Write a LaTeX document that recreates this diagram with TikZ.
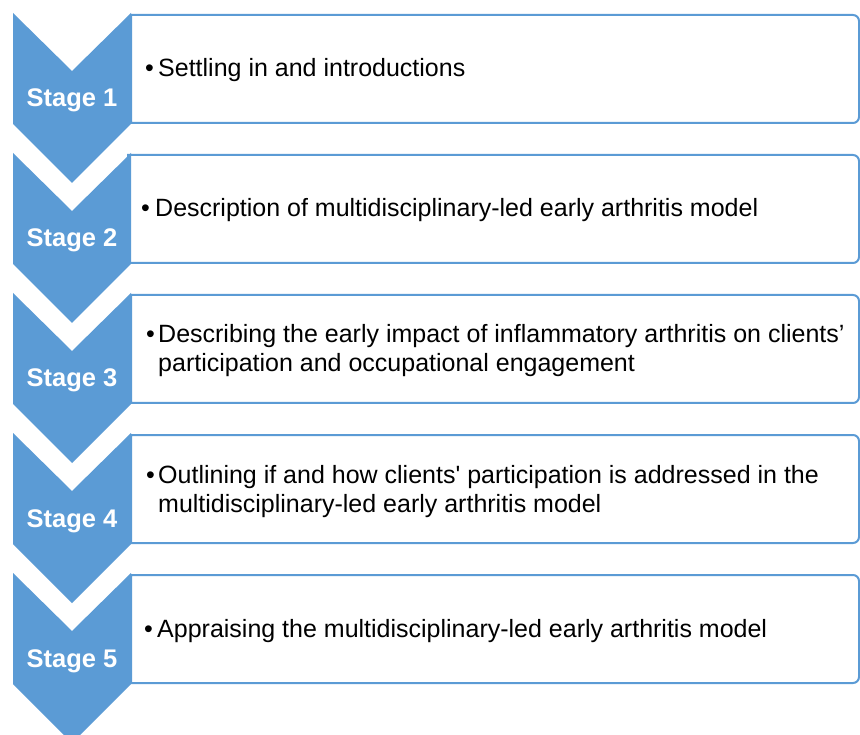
\documentclass[tikz,border=0pt]{standalone}
\usepackage{fontspec}
\setmainfont{Liberation Sans}[Ligatures=TeXOff]
\definecolor{stageblue}{HTML}{5B9BD5}
\begin{document}
\begin{tikzpicture}[x=1pt,y=-1pt,
  chevronshape/.style={fill=stageblue, draw=none},
  textbox/.style={draw=stageblue, line width=2pt, fill=white},
  stagelabel/.style={text=white, font=\fontsize{25.5}{30}\selectfont\bfseries, inner sep=0pt, anchor=base},
  bodytext/.style={font=\fontsize{25}{29}\selectfont, inner sep=0pt, anchor=base west, align=left},
  bulletmark/.style={font=\fontsize{25}{29}\selectfont, inner sep=0pt, anchor=base west}]
\useasboundingbox (0,0) rectangle (860,735);
\clip (0,0) rectangle (860,735);
% boxes and chevrons
\foreach \k/\bx in {0/131,1/128,2/131,3/131,4/131}{
  \pgfmathsetmacro{\yt}{13+140*\k}
  \draw[textbox] (\bx,\yt+2) [rounded corners=6pt] -- (859,\yt+2) -- (859,\yt+110) [sharp corners] -- (\bx,\yt+110) -- cycle;
  \fill[chevronshape] (13,\yt) -- (72,\yt+58) -- (131,\yt) -- (131,\yt+111) -- (72,\yt+170) -- (13,\yt+111) -- cycle;
}
% stage labels
\node[stagelabel] (s1) at (72,107) {Stage 1};
\node[stagelabel] (s2) at (72,247) {Stage 2};
\node[stagelabel] (s3) at (72,387) {Stage 3};
\node[stagelabel] (s4) at (72,527) {Stage 4};
\node[stagelabel] (s5) at (72,667) {Stage 5};
% bullets and texts
\node[bulletmark] (b1) at (145,77) {•};
\node[bodytext] (t1) at (158,77) {Settling in and introductions};
\node[bulletmark] (b2) at (141,217) {•};
\node[bodytext] (t2) at (155,217) {Description of multidisciplinary-led early arthritis model};
\node[bulletmark] (b3) at (146,343) {•};
\node[bodytext] (t3) at (158,372) {Describing the early impact of inflammatory arthritis on clients’\\participation and occupational engagement};
\node[bulletmark] (b4) at (146,483) {•};
\node[bodytext] (t4) at (158,512) {Outlining if and how clients' participation is addressed in the\\multidisciplinary-led early arthritis model};
\node[bulletmark] (b5) at (144,637) {•};
\node[bodytext] (t5) at (157,637) {Appraising the multidisciplinary-led early arthritis model};
\end{tikzpicture}
\end{document}
